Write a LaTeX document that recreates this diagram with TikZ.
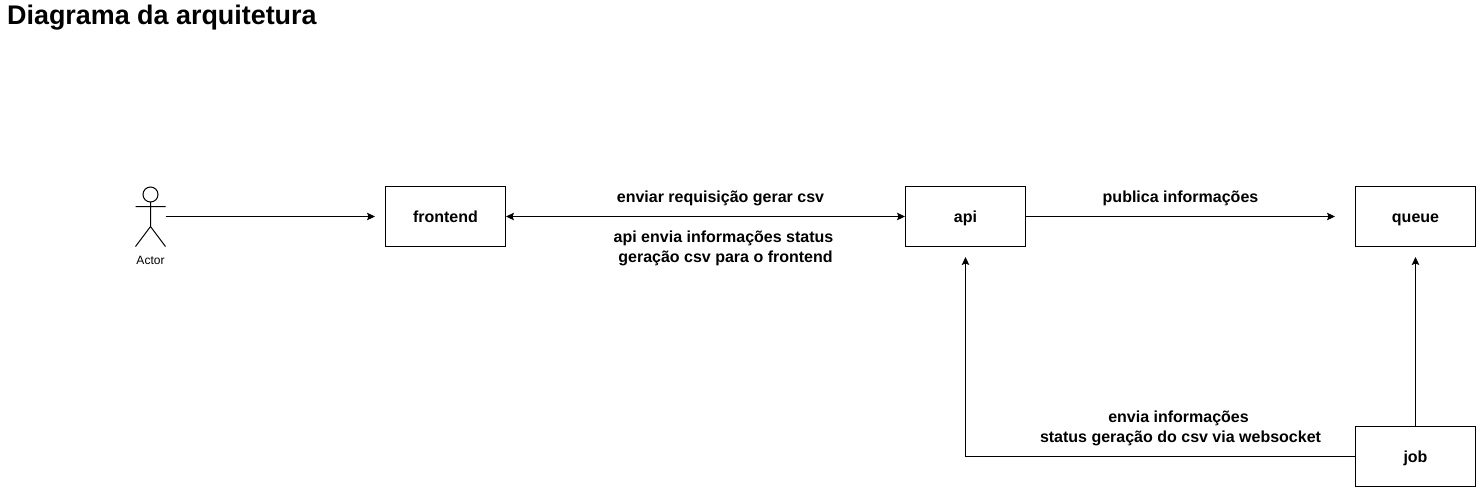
\documentclass[tikz,border=0pt]{standalone}
\usepackage{fontspec}
\setmainfont{Liberation Sans}
\usetikzlibrary{arrows.meta}

\tikzset{
  box/.style={draw=black,line width=1pt,minimum width=120pt,minimum height=60pt,inner sep=0pt,text height=11.6pt,text depth=0pt,font=\fontsize{16}{20}\selectfont\bfseries},
  lbl/.style={inner sep=0pt,align=center,font=\fontsize{16}{20}\selectfont\bfseries},
  conn/.style={line width=1pt,>={Stealth[black,length=8pt,width=7.5pt,inset=1.5pt]}}
}

\begin{document}
\begin{tikzpicture}[x=1pt,y=-1pt]
\useasboundingbox (0,0) rectangle (1476,488);

\node [inner sep=0pt,anchor=west,font=\fontsize{26.9}{32}\selectfont\bfseries] (title) at (7,18) {Diagrama da arquitetura};

% actor
\node [minimum width=30pt,minimum height=60pt,inner sep=0pt] (actor) at (150.5,216.5) {};
\draw [line width=1pt] (150.5,194.5) circle (7.5pt);
\draw [line width=1pt] (150.5,202) -- (150.5,226.5) (135.5,206.5) -- (165.5,206.5)
  (135.5,246.5) -- (150.5,226.5) -- (165.5,246.5);
\node [inner sep=0pt,font=\fontsize{12}{14}\selectfont] (actorlabel) at (150.5,260.5) {Actor};

\begin{scope}[every node/.style={box}]
  \node (frontend) at (445.5,216.5) {frontend};
  \node (api) at (965.5,216.5) {api};
  \node (queue) at (1415.5,216.5) {queue};
  \node (job) at (1415.5,456.5) {job};
\end{scope}

\begin{scope}[every node/.style={lbl}]
  \node (lblreq) at (720.5,198.5) {enviar requisição gerar csv};
  \node (lblstatus) at (723.5,248) {api envia informações status\\\hspace*{4pt}geração csv para o frontend};
  \node (lblpub) at (1180.5,198.5) {publica informações};
  \node (lblws) at (1180.5,428.5) {envia informações\hspace*{4pt}\\status geração do csv via websocket};
\end{scope}

\draw [conn,->,shorten >=10pt] (actor) -- (frontend);
\draw [conn,<->] (frontend) -- (api);
\draw [conn,->,shorten >=20pt] (api) -- (queue);
\draw [conn,->,shorten >=10pt] (job) -- (queue);
\draw [conn,->,shorten >=10pt] (job.west) -| (api.south);
\end{tikzpicture}
\end{document}
